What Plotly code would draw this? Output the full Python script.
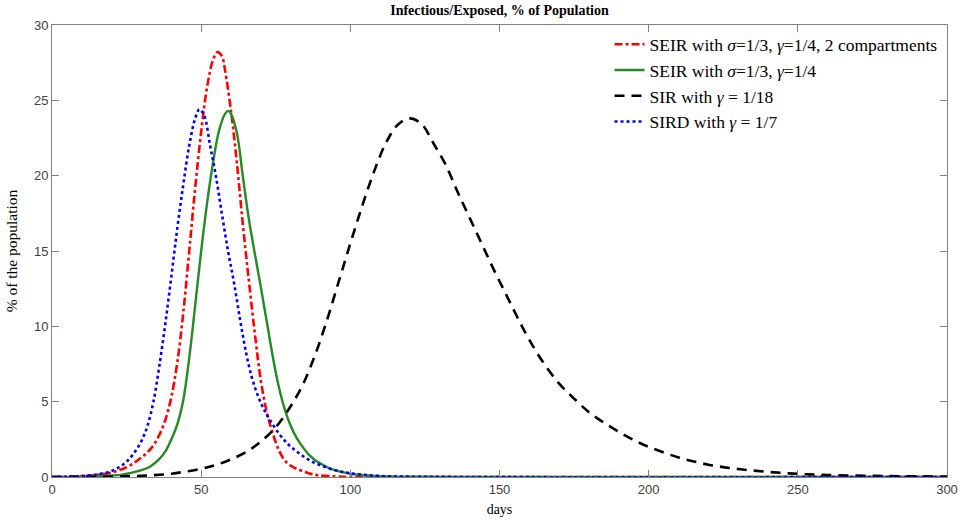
import plotly.graph_objects as go

# SEIR, 2 compartments (red dash-dot)
seir2_days = [0, 5, 10, 15, 20, 25, 28, 30, 32, 34, 36, 38, 40, 42, 44, 46, 48, 50, 52, 54, 55.5, 57, 58, 60, 62, 64, 66, 68, 70, 72, 74, 76, 78, 80, 83, 86, 89, 95, 100, 110, 300]
seir2_vals = [0, 0.02, 0.06, 0.14, 0.3, 0.65, 1.0, 1.3, 1.65, 2.1, 2.8, 3.8, 5.3, 7.6, 10.9, 15.0, 19.2, 22.9, 25.9, 27.7, 28.2, 27.9, 27.0, 24.3, 20.8, 16.7, 13.0, 9.5, 6.4, 4.3, 2.9, 1.8, 1.1, 0.75, 0.46, 0.25, 0.12, 0.04, 0.01, 0, 0]

# SEIR (green solid)
seir_days = [0, 10, 15, 20, 23, 26, 30, 33, 36, 38, 40, 42, 44, 46, 48, 50, 52, 54, 56, 58, 59.1, 60, 62, 64, 66, 68, 70, 72, 74, 76, 78, 80, 82, 84, 86, 88, 90, 94, 100, 110, 130, 300]
seir_vals = [0, 0.02, 0.05, 0.1, 0.14, 0.25, 0.45, 0.7, 1.2, 1.7, 2.5, 3.5, 5.1, 7.9, 11.4, 15.0, 18.2, 20.9, 23.0, 24.1, 24.3, 24.1, 22.8, 19.9, 17.1, 14.8, 12.6, 10.3, 8.0, 6.0, 4.5, 3.4, 2.6, 2.0, 1.5, 1.15, 0.9, 0.5, 0.22, 0.06, 0.01, 0]

# SIR (black dashed)
sir_days = [0, 10, 20, 30, 40, 50, 55, 60, 65, 70, 75, 80, 84, 88, 92, 96, 100, 104, 108, 112, 116, 120, 124, 128, 132, 136, 140, 144, 148, 152, 156, 160, 165, 170, 175, 180, 185, 190, 195, 200, 210, 220, 230, 240, 250, 260, 280, 300]
sir_vals = [0, 0.01, 0.03, 0.08, 0.22, 0.55, 0.8, 1.17, 1.65, 2.35, 3.3, 4.7, 6.1, 8.0, 10.3, 12.9, 15.5, 18.0, 20.3, 22.2, 23.4, 23.8, 23.4, 22.1, 20.7, 18.9, 17.2, 15.5, 13.8, 12.2, 10.6, 9.1, 7.5, 6.2, 5.2, 4.3, 3.6, 3.0, 2.45, 2.0, 1.3, 0.82, 0.53, 0.34, 0.21, 0.13, 0.06, 0.03]

# SIRD (blue dotted)
sird_days = [0, 5, 10, 15, 20, 24, 27, 30, 32, 34, 36, 38, 40, 42, 44, 46, 48, 49.4, 51, 53, 55, 57, 59, 61, 63, 65, 67, 69, 71, 73, 76, 79, 82, 86, 90, 95, 100, 110, 130, 300]
sird_vals = [0, 0.02, 0.06, 0.17, 0.4, 0.85, 1.45, 2.4, 3.4, 5.0, 7.4, 10.2, 13.3, 16.5, 19.4, 22.0, 23.8, 24.4, 24.0, 22.0, 19.9, 17.4, 15.0, 12.9, 10.5, 8.3, 6.6, 5.4, 4.5, 3.8, 2.9, 2.2, 1.7, 1.15, 0.78, 0.45, 0.25, 0.07, 0.01, 0]

names = [
    "SEIR with <i>σ</i>=1/3, <i>γ</i>=1/4, 2 compartments",
    "SEIR with <i>σ</i>=1/3, <i>γ</i>=1/4",
    "SIR with <i>γ</i> = 1/18",
    "SIRD with <i>γ</i> = 1/7",
]

fig = go.Figure()
fig.add_trace(go.Scatter(x=seir2_days, y=seir2_vals, mode="lines", name=names[0],
                         line=dict(color="#ff0000", width=2.6, dash="8px,3px,3px,3px", shape="spline", smoothing=1)))
fig.add_trace(go.Scatter(x=seir_days, y=seir_vals, mode="lines", name=names[1],
                         line=dict(color="#228b22", width=2.4, shape="spline", smoothing=1)))
fig.add_trace(go.Scatter(x=sir_days, y=sir_vals, mode="lines", name=names[2],
                         line=dict(color="#000000", width=2.6, dash="10px,7px", shape="spline", smoothing=1)))
fig.add_trace(go.Scatter(x=sird_days, y=sird_vals, mode="lines", name=names[3],
                         line=dict(color="#0000ff", width=2.6, dash="dot", shape="spline", smoothing=1)))

axis_common = dict(
    showgrid=False, zeroline=False, showline=True, linecolor="#808080", linewidth=1,
    mirror="ticks", ticks="inside", ticklen=7, tickcolor="#808080", tickwidth=1,
    automargin=False,
    tickfont=dict(family="Liberation Sans, Arial, sans-serif", size=13, color="#404040"),
)

fig.update_layout(
    width=966, height=520,
    margin=dict(l=52, r=19, t=25, b=43),
    paper_bgcolor="white", plot_bgcolor="white",
    title=dict(text="<b>Infectious/Exposed, % of Population</b>", x=0.5, xref="paper",
               y=1, yref="container", yanchor="top", pad=dict(t=5),
               font=dict(family="Liberation Serif, serif", size=14, color="#000")),
    xaxis=dict(range=[0, 300], tickvals=[0, 50, 100, 150, 200, 250, 300],
               title=dict(text="days", standoff=8, font=dict(family="Liberation Serif, serif", size=14, color="#000")),
               **axis_common),
    yaxis=dict(range=[0, 30], tickvals=[0, 5, 10, 15, 20, 25, 30],
               title=dict(text="% of the population", standoff=12, font=dict(family="Liberation Serif, serif", size=15.5, color="#000")),
               **axis_common),
    legend=dict(x=0.995, xanchor="right", y=0.997, yanchor="top", bgcolor="rgba(255,255,255,0)",
                font=dict(family="Liberation Serif, serif", size=17.5, color="#000"),
                tracegroupgap=0, itemwidth=30),
    showlegend=True,
)

fig.write_html("out.html")
